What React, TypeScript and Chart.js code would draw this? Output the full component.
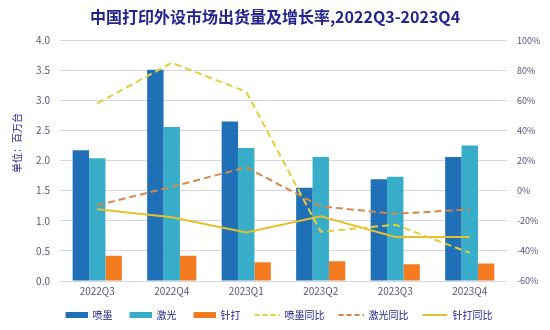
import React, { useEffect, useRef } from "react";
import { Chart, registerables } from "chart.js";

Chart.register(...registerables);

const categories = ["2022Q3", "2022Q4", "2023Q1", "2023Q2", "2023Q3", "2023Q4"];
const inkjet = [2.17, 3.51, 2.65, 1.55, 1.69, 2.06];
const laser = [2.04, 2.56, 2.21, 2.06, 1.73, 2.25];
const dotMatrix = [0.42, 0.42, 0.31, 0.33, 0.28, 0.29];
const inkjetYoY = [58, 85, 65.7, -27.3, -22.6, -41.3];
const laserYoY = [-9.7, 2.6, 15.5, -10.4, -15.4, -12.4];
const dotMatrixYoY = [-12.4, -17.6, -27.8, -17, -30.7, -30.7];
const leftTicks = [0, 0.5, 1, 1.5, 2, 2.5, 3, 3.5, 4];
const rightTicks = [-60, -40, -20, 0, 20, 40, 60, 80, 100];

const TITLE = "中国打印外设市场出货量及增长率,2022Q3-2023Q4";
const Y_TITLE = "单位：百万台";
const NAVY = "#24248f";
const TICK = "#55557a";
const FONT = "'Noto Sans CJK SC', 'Noto Sans', sans-serif";

const C_BLUE = "#1f70b6";
const C_CYAN = "#38adc9";
const C_ORANGE = "#f47b20";
const C_YDASH = "#e4cf3a";
const C_BDASH = "#d7874c";
const C_YSOLID = "#e6c02c";

const ICON_W = 30;

function makeBox(color: string) {
  const c = document.createElement("canvas");
  c.width = ICON_W;
  c.height = 6;
  const ctx = c.getContext("2d")!;
  ctx.fillStyle = color;
  ctx.fillRect(ICON_W - 22, 0, 22, 6);
  return c;
}
function makeLine(color: string, dash: number[]) {
  const c = document.createElement("canvas");
  c.width = ICON_W;
  c.height = 4;
  const ctx = c.getContext("2d")!;
  ctx.strokeStyle = color;
  ctx.lineWidth = 2;
  ctx.setLineDash(dash);
  ctx.beginPath();
  ctx.moveTo(ICON_W - 25, 2);
  ctx.lineTo(ICON_W, 2);
  ctx.stroke();
  return c;
}

export default function App() {
  const ref = useRef<HTMLCanvasElement | null>(null);
  useEffect(() => {
    if (!ref.current) return;
    const icons = [
      makeBox(C_BLUE),
      makeBox(C_CYAN),
      makeBox(C_ORANGE),
      makeLine(C_YDASH, [5, 3]),
      makeLine(C_BDASH, [5, 3]),
      makeLine(C_YSOLID, []),
    ];
    const yTitlePlugin = {
      id: "yTitle",
      afterDraw(chart: any) {
        const ctx = chart.ctx;
        ctx.save();
        ctx.translate(17, 143);
        ctx.rotate(-Math.PI / 2);
        ctx.font = `10px ${FONT}`;
        ctx.fillStyle = NAVY;
        ctx.textAlign = "center";
        ctx.textBaseline = "middle";
        ctx.fillText(Y_TITLE, 0, 0);
        ctx.restore();
      },
    };
    const chart = new Chart(ref.current, {
      type: "bar",
      data: {
        labels: categories,
        datasets: [
          { type: "bar", label: "喷墨", data: inkjet, backgroundColor: C_BLUE, yAxisID: "y", order: 2 },
          { type: "bar", label: "激光", data: laser, backgroundColor: C_CYAN, yAxisID: "y", order: 2 },
          { type: "bar", label: "针打", data: dotMatrix, backgroundColor: C_ORANGE, yAxisID: "y", order: 2 },
          { type: "line", label: "喷墨同比", data: inkjetYoY, borderColor: C_YDASH, backgroundColor: C_YDASH, borderDash: [7, 4], borderWidth: 2, pointRadius: 0, tension: 0, yAxisID: "y1", order: 1 },
          { type: "line", label: "激光同比", data: laserYoY, borderColor: C_BDASH, backgroundColor: C_BDASH, borderDash: [7, 4], borderWidth: 2, pointRadius: 0, tension: 0, yAxisID: "y1", order: 1 },
          { type: "line", label: "针打同比", data: dotMatrixYoY, borderColor: C_YSOLID, backgroundColor: C_YSOLID, borderWidth: 2, pointRadius: 0, tension: 0, yAxisID: "y1", order: 1 },
        ] as any,
      },
      options: {
        animation: false,
        responsive: true,
        maintainAspectRatio: false,
        datasets: { bar: { categoryPercentage: 0.66, barPercentage: 1 } } as any,
        layout: { padding: { left: 0, right: 0, top: 0, bottom: 0 } },
        plugins: {
          title: {
            display: true,
            text: TITLE,
            color: NAVY,
            font: { family: FONT, size: 16, weight: "bold", lineHeight: 1.2 },
            padding: { top: 7, bottom: 14 },
          },
          legend: {
            position: "bottom",
            labels: {
              usePointStyle: true,
              pointStyleWidth: ICON_W,
              color: NAVY,
              font: { family: FONT, size: 10 },
              padding: 9,
              generateLabels(chart: any) {
                const items = Chart.defaults.plugins.legend.labels.generateLabels(chart);
                items.sort((a: any, b: any) => a.datasetIndex - b.datasetIndex);
                return items.map((it: any) => ({ ...it, pointStyle: icons[it.datasetIndex] }));
              },
            },
          },
          tooltip: { enabled: false },
        },
        scales: {
          x: {
            grid: { display: false, drawTicks: false },
            border: { display: false },
            ticks: { color: TICK, font: { family: FONT, size: 10 }, padding: 4 },
          },
          y: {
            position: "left",
            min: 0,
            max: 4,
            afterFit: (s: any) => { s.width = 60; },
            afterBuildTicks: (s: any) => { s.ticks = leftTicks.map((v) => ({ value: v })); },
            grid: { color: "#d6d6ea", lineWidth: 1, drawTicks: false },
            border: { display: false },
            ticks: { color: TICK, font: { family: FONT, size: 10 }, padding: 10, callback: (v: any) => Number(v).toFixed(1) },
          },
          y1: {
            position: "right",
            min: -60,
            max: 100,
            afterFit: (s: any) => { s.width = 43; },
            afterBuildTicks: (s: any) => { s.ticks = rightTicks.map((v) => ({ value: v })); },
            grid: { display: false, drawTicks: false },
            border: { display: false },
            ticks: { color: TICK, font: { family: FONT, size: 9 }, padding: 10, callback: (v: any) => `${v}%` },
          },
        },
      } as any,
      plugins: [yTitlePlugin],
    });
    return () => chart.destroy();
  }, []);
  return (
    <div style={{ position: "absolute", left: 0, top: 0, width: 550, height: 330, background: "#fff" }}>
      <canvas ref={ref} />
    </div>
  );
}
